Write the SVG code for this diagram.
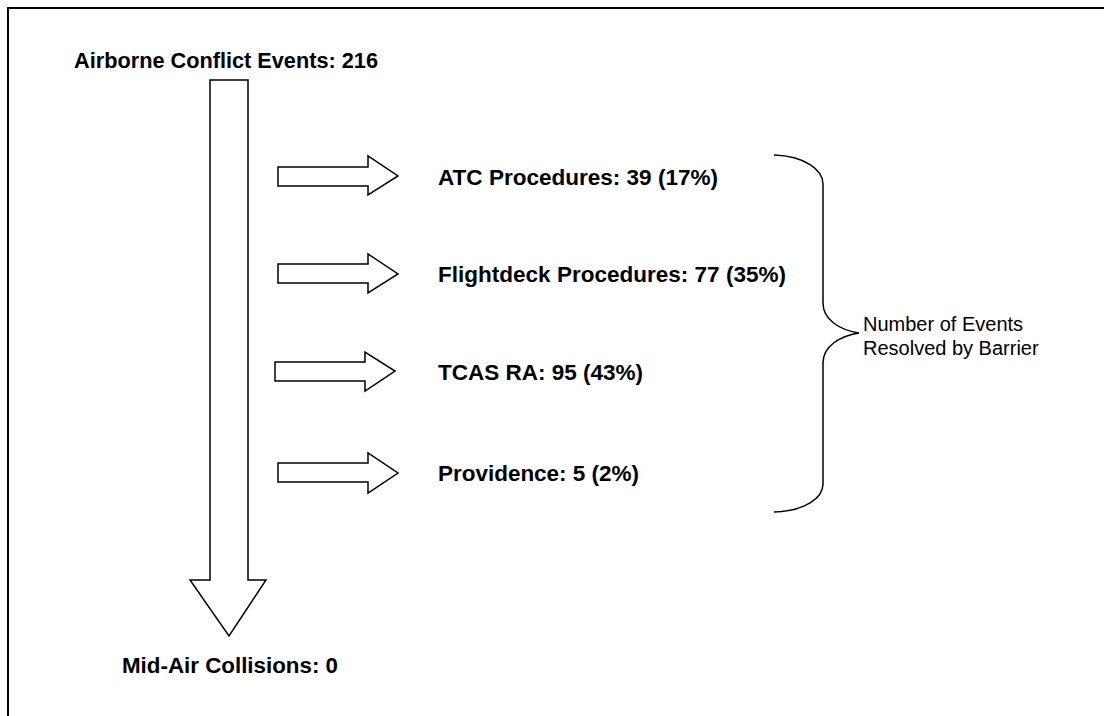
<svg xmlns="http://www.w3.org/2000/svg" width="1104" height="716" viewBox="0 0 1104 716">
<style>
.b{font-family:"Liberation Sans",Arial,sans-serif;font-weight:bold;font-size:22px;fill:#000}
.r{font-family:"Liberation Sans",Arial,sans-serif;font-size:20px;fill:#000}
.s{fill:#fff;stroke:#000;stroke-width:1.5;stroke-linejoin:miter}
.br{fill:none;stroke:#000;stroke-width:1.5}
</style>
<rect x="0" y="0" width="1104" height="716" fill="#fff"/>
<path d="M8,720 V8 H1110" fill="none" stroke="#000" stroke-width="2"/>
<g id="main-arrow">
<path class="s" d="M210,80 H248 V580 H266 L229,636 L190,580 H210 Z"/>
</g>
<g id="connectors">
<path class="s" d="M278,167 H368 V156 L398,176 L368,195 V186 H278 Z"/>
<path class="s" d="M278,264 H368 V254 L398,274 L368,293 V283 H278 Z"/>
<path class="s" d="M275,362 H365 V352 L395,371 L365,391 V381 H275 Z"/>
<path class="s" d="M278,463 H368 V453 L398,473 L368,493 V482 H278 Z"/>
</g>
<g id="brace">
<path class="br" d="M774,155 C805,156 823,170 823,184 V303 C823,320 840,330 859,333 C840,336 823,346 823,363 V484 C823,498 805,511 774,512"/>
</g>
<g id="n-start"><text class="b" x="74" y="68" textLength="304" lengthAdjust="spacingAndGlyphs">Airborne Conflict Events: 216</text></g>
<g id="n-end"><text class="b" x="122" y="673" textLength="216" lengthAdjust="spacingAndGlyphs">Mid-Air Collisions: 0</text></g>
<g id="n-atc"><text class="b" x="438" y="185" textLength="280" lengthAdjust="spacingAndGlyphs">ATC Procedures: 39 (17%)</text></g>
<g id="n-fd"><text class="b" x="438" y="282" textLength="348" lengthAdjust="spacingAndGlyphs">Flightdeck Procedures: 77 (35%)</text></g>
<g id="n-tcas"><text class="b" x="438" y="380" textLength="205" lengthAdjust="spacingAndGlyphs">TCAS RA: 95 (43%)</text></g>
<g id="n-prov"><text class="b" x="438" y="481" textLength="201" lengthAdjust="spacingAndGlyphs">Providence: 5 (2%)</text></g>
<g id="n-label"><text class="r" x="863" y="331">Number of Events</text><text class="r" x="863" y="355">Resolved by Barrier</text></g>
</svg>
